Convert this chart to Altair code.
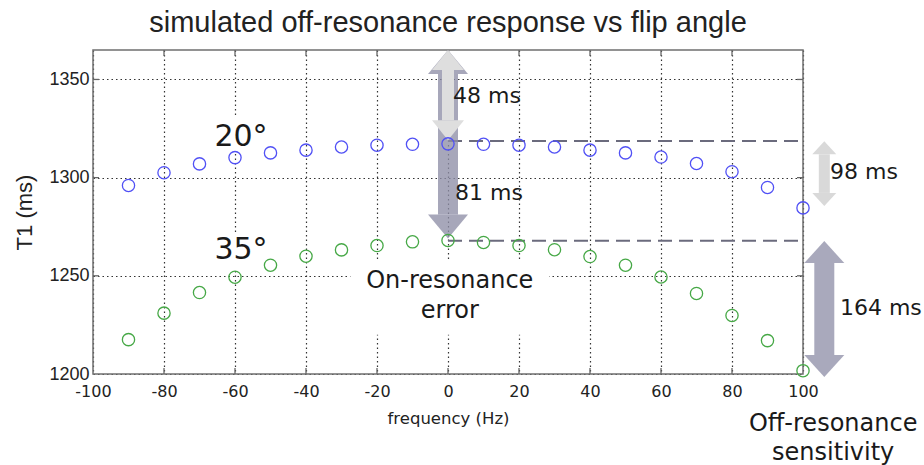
import altair as alt
import pandas as pd

# ---------------- data ----------------
freq = [-90, -80, -70, -60, -50, -40, -30, -20, -10, 0, 10, 20, 30, 40, 50, 60, 70, 80, 90, 100]
t1_20deg = [1296, 1302.5, 1307, 1310.2, 1312.6, 1314, 1315.6, 1316.5, 1317, 1317.2,
            1317, 1316.5, 1315.6, 1314, 1312.6, 1310.5, 1307.2, 1303, 1295, 1284.6]
t1_35deg = [1217.5, 1231, 1241.5, 1249.3, 1255.4, 1260, 1263.2, 1265.4, 1267.3, 1268,
            1267, 1265.4, 1263.3, 1259.8, 1255.4, 1249.4, 1241, 1229.8, 1217, 1201.7]

x_ticks = [-100, -80, -60, -40, -20, 0, 20, 40, 60, 80, 100]
y_ticks = [1200, 1250, 1300, 1350]
x_domain = [-100, 100]
y_domain = [1200, 1365]

# annotation arrows: x, tip top, tip bottom, head width px, head height px, shaft px, colour, opacity
arrow_x = [0, 0, 106, 106]
arrow_top = [1365, 1365, 1318.5, 1267.7]
arrow_bot = [1269, 1319, 1285.6, 1198.5]
arrow_head_w = [40, 32, 24, 40]
arrow_head_h = [24, 20, 13, 22]
arrow_shaft = [20, 12, 11, 20]
arrow_color = ["#8e8ea6", "#dedede", "#d9d9d9", "#a9a9bc"]
arrow_opacity = [0.78, 1.0, 1.0, 1.0]

# dashed reference levels (on-resonance values)
level_y = [1318.6, 1267.8]
level_x0 = [0, 0]
level_x1 = [100, 100]

# ---------------- build tables ----------------
W, H = 710, 324
ms_per_px = (y_domain[1] - y_domain[0]) / H
hz_per_px = (x_domain[1] - x_domain[0]) / W

pts = pd.DataFrame({
    "freq": freq * 2,
    "t1": t1_20deg + t1_35deg,
    "angle": ["20°"] * len(freq) + ["35°"] * len(freq),
})

xs = alt.Scale(domain=x_domain, nice=False, zero=False)
ys = alt.Scale(domain=y_domain, nice=False, zero=False)

grid_style = dict(grid=True, gridColor="#333333", gridDash=[1.5, 3], gridWidth=1.2, gridOpacity=1)

x_axis = alt.Axis(values=x_ticks, title="frequency (Hz)", ticks=False, tickSize=0,
                  domain=False, labelPadding=9, labelExpr="'' + datum.value",
                  labelFont="DejaVu Sans", labelFontSize=16, labelColor="#222",
                  titleFont="DejaVu Sans", titleFontSize=16.5, titleFontWeight="normal",
                  titleColor="#222", titlePadding=11, labelOverlap=False, labelFlush=False,
                  **grid_style)
y_axis = alt.Axis(values=y_ticks, title="T1 (ms)", ticks=False, tickSize=0,
                  domain=False, labelPadding=4, labelExpr="'' + datum.value",
                  labelFont="Liberation Sans", labelFontSize=18, labelColor="#222",
                  titleFont="Liberation Sans", titleFontSize=22, titleFontWeight="normal",
                  titleColor="#222", titlePadding=12, labelOverlap=False, labelFlush=False,
                  **grid_style)


def X(f):
    return alt.X(f, type="quantitative", scale=xs, axis=x_axis)


def Y(f):
    return alt.Y(f, type="quantitative", scale=ys, axis=y_axis)


layers = []

# white boxes behind text labels
boxes = pd.DataFrame({"x0": [-66.5, -66.5, -27.5], "x1": [-50.5, -50.5, 28.5],
                      "y0": [1313, 1254, 1220], "y1": [1331, 1272, 1258]})
layers.append(alt.Chart(boxes).mark_rect(color="white").encode(
    x=X("x0"), x2="x1", y=Y("y0"), y2="y1"))

# frame
frame = pd.DataFrame({"x0": [x_domain[0]], "x1": [x_domain[1]], "y0": [y_domain[0]], "y1": [y_domain[1]]})
layers.append(alt.Chart(frame).mark_rect(filled=False, stroke="#6f6f6f", strokeWidth=1.5).encode(
    x=X("x0"), x2="x1", y=Y("y0"), y2="y1"))

# inward ticks on the frame
tick_in = 6
tx = x_ticks[1:-1]
ticks_v = pd.DataFrame({
    "x0": tx * 2, "x1": tx * 2,
    "y0": [y_domain[0]] * len(tx) + [y_domain[1]] * len(tx),
    "y1": [y_domain[0] + tick_in * ms_per_px] * len(tx) + [y_domain[1] - tick_in * ms_per_px] * len(tx),
})
ty = y_ticks[1:]
ticks_h = pd.DataFrame({
    "x0": [x_domain[0]] * len(ty) + [x_domain[1]] * len(ty),
    "x1": [x_domain[0] + tick_in * hz_per_px] * len(ty) + [x_domain[1] - tick_in * hz_per_px] * len(ty),
    "y0": ty * 2, "y1": ty * 2,
})
ticks_all = pd.concat([ticks_v, ticks_h], ignore_index=True)
layers.append(alt.Chart(ticks_all).mark_rule(color="#666", strokeWidth=1.3).encode(
    x=X("x0"), x2="x1", y=Y("y0"), y2="y1"))

# dashed on-resonance levels
lv = pd.DataFrame({"x0": level_x0, "x1": level_x1, "y": level_y})
layers.append(alt.Chart(lv).mark_rule(color="#6b6b7d", strokeWidth=2, strokeDash=[14, 7]).encode(
    x=X("x0"), x2="x1", y=Y("y")))

# arrows
for i in range(len(arrow_x)):
    hh = arrow_head_h[i] * ms_per_px
    shaft = pd.DataFrame({"x0": [arrow_x[i]], "y0": [arrow_top[i] - hh], "y1": [arrow_bot[i] + hh]})
    layers.append(alt.Chart(shaft).mark_rule(color=arrow_color[i], opacity=arrow_opacity[i],
                                             strokeWidth=arrow_shaft[i]).encode(
        x=X("x0"), y=Y("y0"), y2="y1"))
    k = 2 * arrow_head_h[i] / arrow_head_w[i]
    up = f"M 0 0 L 1 {k:.3f} L -1 {k:.3f} Z"
    down = f"M 0 0 L 1 {-k:.3f} L -1 {-k:.3f} Z"
    for shape, yv in ((up, arrow_top[i]), (down, arrow_bot[i])):
        hd = pd.DataFrame({"x0": [arrow_x[i]], "y0": [yv]})
        layers.append(alt.Chart(hd).mark_point(shape=shape, filled=True, color=arrow_color[i],
                                               opacity=arrow_opacity[i], strokeWidth=0,
                                               size=arrow_head_w[i] ** 2).encode(
            x=X("x0"), y=Y("y0")))

# data points
layers.append(alt.Chart(pts).mark_point(shape="circle", filled=False, size=150, strokeWidth=1.3,
                                        opacity=1).encode(
    x=X("freq"), y=Y("t1"),
    color=alt.Color("angle:N", scale=alt.Scale(domain=["20°", "35°"], range=["#5050f5", "#46a846"]),
                    legend=None)))


# text annotations
def text_layer(df, size, align, font="DejaVu Sans"):
    return alt.Chart(df).mark_text(font=font, fontSize=size, align=align, baseline="middle",
                                   color="#1a1a1a").encode(x=X("x0"), y=Y("y0"), text="label:N")


angle_lbl = pd.DataFrame({"x0": [-58.3, -58.3], "y0": [1320.5, 1263], "label": ["20°", "35°"]})
layers.append(text_layer(angle_lbl, 30, "center"))

ms_lbl = pd.DataFrame({"x0": [1.4, 2.0, 107.6, 110.4], "y0": [1341.8, 1292.2, 1303.1, 1233.6],
                       "label": ["48 ms", "81 ms", "98 ms", "164 ms"]})
layers.append(text_layer(ms_lbl, 22, "left"))

big_lbl = pd.DataFrame({"x0": [0.5, 0.5, 108.5, 108.5], "y0": [1247.5, 1232, 1174.6, 1159.8],
                        "label": ["On-resonance", "error", "Off-resonance", "sensitivity"]})
layers.append(text_layer(big_lbl, 24, "center"))

chart = alt.layer(*layers).properties(
    width=W, height=H,
    title=alt.TitleParams("simulated off-resonance response vs flip angle", font="Liberation Sans",
                          fontSize=29, fontWeight="normal", color="#222", anchor="middle",
                          frame="group", offset=11),
    autosize=alt.AutoSizeParams(type="none"),
    padding={"left": 93, "top": 50, "right": 121, "bottom": 91},
).configure_view(stroke=None)

chart.save("out.html", embed_options={"renderer": "svg", "actions": False})
